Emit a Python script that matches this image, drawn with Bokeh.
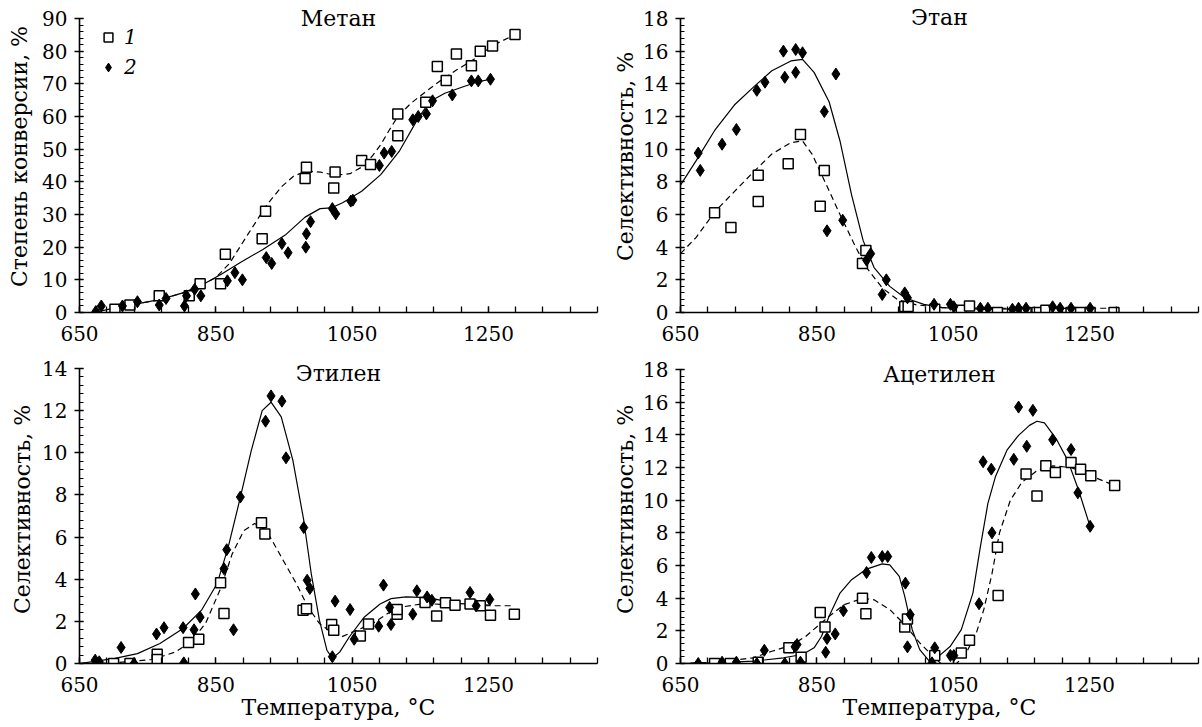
from bokeh.plotting import figure
from bokeh.models import Range1d, FixedTicker, Label, Legend, LegendItem
from bokeh.layouts import column, row
from bokeh.embed import file_html
from bokeh.resources import INLINE

FONT = "DejaVu Serif"

# ---------------- data (temperature, °C ; value, %) ----------------
# Метан: степень конверсии
met_t1 = [702, 724, 767, 811, 827, 857, 864, 918, 923, 981, 983, 1023, 1025, 1064, 1077,
          1117, 1117, 1158, 1175, 1188, 1203, 1225, 1238, 1256, 1289]
met_v1 = [1.0, 2.3, 5.1, 5.1, 8.8, 8.8, 17.8, 22.6, 31.0, 41.0, 44.5, 38.1, 43.0, 46.5, 45.3,
          54.1, 60.8, 64.4, 75.3, 71.0, 79.1, 75.5, 80.0, 81.6, 85.1]
met_t2 = [674, 682, 713, 735, 767, 777, 804, 807, 819, 828, 867, 878, 889, 924, 932, 947, 956,
          982, 983, 989, 1021, 1026, 1048, 1051, 1090, 1097, 1108, 1139, 1147, 1159, 1168, 1197,
          1225, 1235, 1253]
met_v2 = [0.3, 2.0, 2.0, 3.3, 2.3, 4.3, 2.0, 5.1, 7.1, 5.1, 9.7, 12.2, 10.0, 16.8, 15.0, 21.1,
          18.3, 20.0, 24.1, 27.8, 31.8, 30.2, 34.1, 34.4, 45.0, 48.8, 49.3, 59.0, 60.0, 60.8,
          64.8, 66.6, 70.9, 70.9, 71.4]
met_fit1_t = [700, 736, 769, 803, 831, 850, 870, 897, 925, 947, 964, 981, 1003, 1025, 1047, 1064,
              1080, 1092, 1105, 1117, 1136, 1158, 1181, 1203, 1231, 1258, 1289]
met_fit1_v = [1.5, 2.7, 4.0, 6.1, 8.6, 10.7, 15.0, 23.9, 33.0, 38.6, 41.7, 43.2, 43.0, 42.0, 42.5,
              44.5, 48.0, 51.4, 56.0, 60.0, 64.0, 67.6, 71.2, 74.2, 77.8, 81.9, 85.1]
met_fit2_t = [672, 703, 736, 769, 803, 831, 858, 886, 919, 953, 981, 1003, 1019, 1036, 1064, 1092,
              1119, 1147, 1164, 1186, 1214, 1236, 1253]
met_fit2_v = [0.0, 1.5, 2.7, 4.0, 6.1, 8.6, 11.7, 15.3, 19.3, 23.9, 29.2, 31.8, 32.0, 33.6, 37.1,
              42.2, 49.3, 59.5, 64.6, 67.1, 69.2, 70.7, 71.4]

# Этан: селективность
eth_t1 = [700, 724, 764, 764, 808, 826, 855, 861, 917, 922, 979, 984, 1023, 1062, 1074, 1115,
          1157, 1173, 1186, 1199, 1223, 1237, 1251, 1286]
eth_v1 = [6.1, 5.2, 8.4, 6.8, 9.1, 10.9, 6.5, 8.7, 3.0, 3.8, 0.37, 0.37, 0.2, 0.14, 0.4, 0.0,
          0.0, 0.0, 0.14, 0.0, 0.0, 0.0, 0.0, 0.0]
eth_t2 = [676, 679, 711, 732, 762, 774, 801, 803, 819, 819, 829, 861, 865, 878, 888, 923, 929,
          946, 952, 979, 983, 1022, 1046, 1051, 1090, 1101, 1137, 1146, 1157, 1196, 1207, 1223, 1251]
eth_v2 = [9.76, 8.7, 10.3, 11.2, 13.6, 14.1, 16.0, 14.4, 16.1, 14.7, 15.9, 12.3, 5.0, 14.6, 5.65,
          3.2, 3.6, 1.1, 2.0, 1.2, 0.9, 0.5, 0.5, 0.35, 0.26, 0.26, 0.2, 0.26, 0.26, 0.35, 0.26,
          0.26, 0.26]
eth_fit1_t = [650, 673, 701, 729, 757, 784, 812, 829, 843, 862, 884, 907, 923, 946, 968, 996,
              1034, 1090, 1286]
eth_fit1_v = [3.6, 4.6, 6.2, 7.4, 8.6, 9.7, 10.4, 10.5, 9.7, 8.0, 6.0, 4.0, 2.75, 1.5, 0.8, 0.47,
              0.3, 0.26, 0.26]
eth_fit2_t = [650, 673, 701, 729, 757, 784, 812, 829, 846, 868, 884, 901, 918, 934, 957, 979,
              1007, 1034, 1090, 1251]
eth_fit2_v = [7.8, 9.3, 11.2, 12.7, 13.8, 14.8, 15.4, 15.5, 14.7, 12.9, 10.5, 7.2, 4.4, 2.75,
              1.6, 0.9, 0.5, 0.3, 0.2, 0.26]

# Этилен: селективность
ety_t1 = [700, 724, 764, 764, 810, 825, 857, 862, 917, 922, 978, 983, 1020, 1023, 1062, 1074,
          1116, 1116, 1157, 1174, 1187, 1201, 1223, 1238, 1253, 1288]
ety_v1 = [0.0, 0.0, 0.44, 0.19, 1.0, 1.15, 3.83, 2.37, 6.68, 6.14, 2.53, 2.6, 1.85, 1.58, 1.31,
          1.87, 2.34, 2.56, 2.9, 2.25, 2.88, 2.77, 2.82, 2.74, 2.29, 2.34]
ety_t2 = [673, 679, 711, 730, 763, 774, 802, 803, 818, 820, 827, 862, 866, 876, 886, 923, 931,
          947, 953, 979, 984, 988, 1021, 1025, 1047, 1053, 1089, 1096, 1105, 1107, 1139, 1145,
          1160, 1167, 1223, 1232, 1252]
ety_v2 = [0.16, 0.08, 0.76, 0.0, 1.4, 1.7, 1.7, 0.03, 1.6, 3.3, 2.2, 4.5, 5.4, 1.6, 7.9, 11.5,
          12.7, 12.45, 9.76, 6.45, 3.95, 3.56, 0.32, 2.96, 2.56, 1.15, 1.77, 3.72, 2.66, 1.85,
          2.34, 3.45, 3.16, 3.0, 3.37, 2.74, 3.04]
ety_fit1_t = [650, 702, 757, 791, 813, 835, 857, 874, 891, 907, 924, 946, 968, 985, 1002, 1019,
              1035, 1057, 1080, 1102, 1124, 1157, 1201, 1246, 1288]
ety_fit1_v = [0.0, 0.03, 0.19, 0.55, 1.03, 1.9, 3.56, 5.2, 6.3, 6.64, 6.33, 5.06, 3.8, 2.69, 1.9,
              1.5, 1.27, 1.58, 1.9, 2.37, 2.69, 2.85, 2.77, 2.74, 2.74]
ety_fit2_t = [650, 702, 735, 768, 802, 829, 852, 868, 885, 902, 918, 931, 946, 963, 979, 990,
              1002, 1013, 1021, 1032, 1046, 1068, 1091, 1107, 1129, 1162, 1201, 1252]
ety_fit2_v = [0.0, 0.24, 0.47, 0.95, 1.66, 2.53, 3.8, 5.5, 7.75, 10.1, 12.0, 12.4, 11.7, 9.65,
              6.8, 4.27, 2.06, 0.63, 0.24, 0.55, 1.27, 2.21, 2.82, 3.08, 3.16, 3.13, 2.85, 2.77]

# Ацетилен: селективность
ace_t1 = [700, 723, 764, 809, 827, 855, 862, 917, 922, 979, 983, 1023, 1062, 1074, 1115, 1116,
          1157, 1173, 1186, 1200, 1223, 1237, 1252, 1287]
ace_v1 = [0.0, 0.0, 0.08, 0.96, 0.39, 3.13, 2.24, 3.99, 3.05, 2.24, 2.73, 0.49, 0.65, 1.42, 7.12,
          4.17, 11.6, 10.25, 12.1, 11.7, 12.3, 11.9, 11.5, 10.9]
ace_t2 = [676, 711, 732, 762, 773, 803, 818, 821, 826, 863, 865, 877, 889, 923, 930, 946, 954,
          980, 983, 987, 1019, 1023, 1046, 1051, 1088, 1094, 1106, 1107, 1139, 1146, 1158, 1167,
          1196, 1223, 1233, 1251]
ace_v2 = [0.0, 0.08, 0.08, 0.0, 0.81, 0.0, 1.02, 1.16, 0.08, 0.69, 1.53, 1.81, 3.23, 5.57, 6.49,
          6.55, 6.55, 4.92, 1.02, 2.99, 0.04, 0.96, 0.49, 0.49, 3.66, 12.35, 11.9, 8.0, 12.5,
          15.7, 13.3, 15.5, 13.7, 13.1, 10.45, 8.4]
ace_fit1_t = [650, 701, 757, 784, 812, 834, 851, 868, 890, 918, 934, 957, 979, 1001, 1023, 1040,
              1055, 1068, 1084, 1095, 1107, 1118, 1134, 1151, 1173, 1196, 1223, 1251, 1287]
ace_fit1_v = [0.0, 0.08, 0.35, 0.75, 1.1, 1.67, 2.28, 2.89, 3.6, 4.0, 3.9, 3.3, 2.38, 1.26, 0.35,
              -0.3, 0.0, 0.55, 1.87, 3.3, 5.5, 8.0, 10.0, 11.1, 11.8, 12.1, 12.0, 11.5, 10.9]
ace_fit2_t = [650, 701, 757, 801, 829, 846, 857, 868, 884, 901, 923, 946, 957, 971, 979, 990,
              1001, 1015, 1029, 1046, 1062, 1079, 1090, 1101, 1112, 1129, 1146, 1162, 1173, 1184,
              1201, 1218, 1234, 1251]
ace_fit2_v = [0.0, 0.04, 0.14, 0.35, 0.55, 0.96, 1.67, 2.89, 4.31, 5.13, 5.78, 6.1, 6.04, 5.33,
              4.11, 2.07, 0.85, 0.14, 0.45, 1.06, 2.07, 4.31, 7.16, 9.8, 11.43, 13.06, 13.97,
              14.58, 14.83, 14.73, 13.77, 12.45, 10.62, 8.38]

x_labels = [650, 850, 1050, 1250]
x_minor = [650 + 40 * k for k in range(20)]


def panel(width, height, bl, br, bt, bb, ytop, yaxis_max, ystep, yminor, ylabel, title, title_y,
          t1, v1, t2, v2, f1t, f1v, f2t, f2v, xlabel=None, legend=False, ylab_standoff=10):
    p = figure(width=width, height=height, x_range=Range1d(650, 1410), y_range=Range1d(0, ytop),
               output_backend="svg", toolbar_location=None, title=None,
               min_border_left=bl, min_border_right=br, min_border_top=bt, min_border_bottom=bb)
    p.outline_line_color = None
    p.grid.visible = False
    p.background_fill_color = "white"
    p.border_fill_color = "white"

    p.line(f1t, f1v, line_color="black", line_width=1.2, line_dash="6 4")
    p.line(f2t, f2v, line_color="black", line_width=1.2)
    r1 = p.scatter(t1, v1, marker="square", size=10, fill_color="white",
                   line_color="black", line_width=1.5)
    r2 = p.scatter(t2, v2, marker="diamond", size=12, fill_color="black",
                   line_color="black", line_width=1)

    xa = p.xaxis[0]
    xa.ticker = FixedTicker(ticks=x_labels, minor_ticks=x_minor)
    xa.axis_line_width = 1.6
    xa.major_tick_in = 6
    xa.major_tick_out = 0
    xa.minor_tick_in = 6
    xa.minor_tick_out = 0
    xa.major_tick_line_width = 1.3
    xa.minor_tick_line_width = 1.3
    xa.major_label_standoff = 13
    xa.major_label_text_font = FONT
    xa.major_label_text_font_size = "20px"
    xa.major_label_text_color = "black"
    if xlabel:
        xa.axis_label = xlabel
        xa.axis_label_text_font = FONT
        xa.axis_label_text_font_size = "22px"
        xa.axis_label_text_font_style = "normal"
        xa.axis_label_standoff = 0
        xa.axis_label_text_color = "black"

    ya = p.yaxis[0]
    ya.bounds = (0, yaxis_max)
    ya.ticker = FixedTicker(ticks=[ystep * k for k in range(int(round(yaxis_max / ystep)) + 1)],
                            minor_ticks=[round(yminor * k, 3)
                                         for k in range(int(round(yaxis_max / yminor)) + 1)])
    ya.axis_line_width = 1.6
    ya.major_tick_in = 4
    ya.major_tick_out = 5
    ya.minor_tick_in = 4
    ya.minor_tick_out = 0
    ya.major_tick_line_width = 1.3
    ya.minor_tick_line_width = 1.2
    ya.major_label_standoff = 7
    ya.major_label_text_font = FONT
    ya.major_label_text_font_size = "20px"
    ya.major_label_text_color = "black"
    ya.axis_label = ylabel
    ya.axis_label_text_font = FONT
    ya.axis_label_text_font_size = "22px"
    ya.axis_label_text_font_style = "normal"
    ya.axis_label_standoff = ylab_standoff
    ya.axis_label_text_color = "black"

    p.add_layout(Label(x=1030, y=title_y, x_units="data", y_units="data", text=title,
                       text_align="center", text_baseline="middle", text_font=FONT,
                       text_font_size="22px", text_color="black"))

    if legend:
        lg = Legend(items=[LegendItem(label="1", renderers=[r1]),
                           LegendItem(label="2", renderers=[r2])],
                    location=(18, 233), orientation="vertical",
                    glyph_width=22, glyph_height=22, label_height=20, spacing=6,
                    padding=0, margin=0, label_standoff=5,
                    border_line_color=None, background_fill_alpha=0,
                    label_text_font=FONT, label_text_font_style="italic",
                    label_text_font_size="20px", label_text_color="black")
        p.add_layout(lg)
    return p


p1 = panel(600, 349, 79, 3, 0, 37, 95.51, 90, 10, 2, "Степень конверсии, %", "Метан", 90.15,
           met_t1, met_v1, met_t2, met_v2, met_fit1_t, met_fit1_v, met_fit2_t, met_fit2_v,
           legend=True, ylab_standoff=7)
p2 = panel(600, 349, 80, 2, 0, 37, 19.10, 18, 2, 0.4, "Селективность, %", "Этан", 18.03,
           eth_t1, eth_v1, eth_t2, eth_v2, eth_fit1_t, eth_fit1_v, eth_fit2_t, eth_fit2_v,
           ylab_standoff=2)
p3 = panel(600, 377, 79, 3, 6, 63, 14.617, 14, 2, 0.4, "Селективность, %", "Этилен", 13.74,
           ety_t1, ety_v1, ety_t2, ety_v2, ety_fit1_t, ety_fit1_v, ety_fit2_t, ety_fit2_v,
           xlabel="Температура, °C", ylab_standoff=4)
p4 = panel(600, 377, 80, 2, 6, 63, 18.857, 18, 2, 0.4, "Селективность, %", "Ацетилен", 17.7,
           ace_t1, ace_v1, ace_t2, ace_v2, ace_fit1_t, ace_fit1_v, ace_fit2_t, ace_fit2_v,
           xlabel="Температура, °C", ylab_standoff=2)

layout = column(row(p1, p2, spacing=0), row(p3, p4, spacing=0), spacing=0)
open("out.html", "w").write(file_html(layout, INLINE))
